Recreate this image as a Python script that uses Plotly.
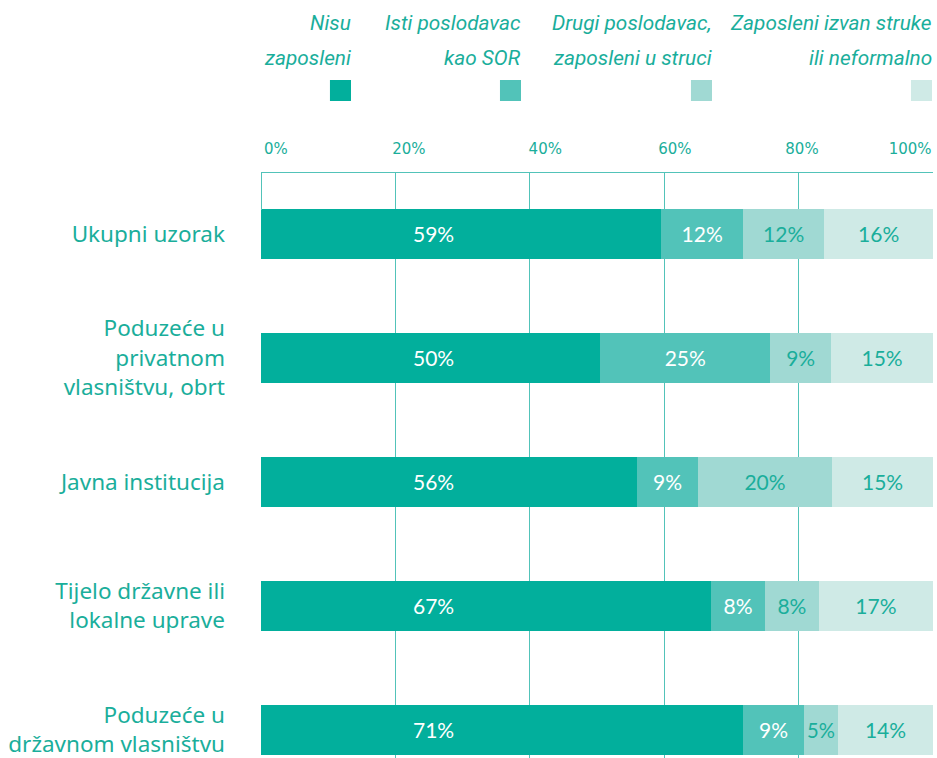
import plotly.graph_objects as go

categories = ["Ukupni uzorak",
              "Poduzeće u<br>privatnom<br>vlasništvu, obrt",
              "Javna institucija",
              "Tijelo državne ili<br>lokalne uprave",
              "Poduzeće u<br>državnom vlasništvu"]
series_names = ["Nisu zaposleni", "Isti poslodavac kao SOR",
                "Drugi poslodavac, zaposleni u struci",
                "Zaposleni izvan struke ili neformalno"]
nisu = [59, 50, 56, 67, 71]
isti = [12, 25, 9, 8, 9]
drugi = [12, 9, 20, 8, 5]
izvan = [16, 15, 15, 17, 14]
tick_vals = [20, 40, 60, 80, 100]
tick_label_pos = [2.2, 22.0, 42.3, 61.6, 80.5, 96.6]
tick_text = ["0%", "20%", "40%", "60%", "80%", "100%"]

colors = ["#02AF9C", "#52C3B9", "#A0D9D3", "#CFEAE6"]
text_colors = ["#FFFFFF", "#FFFFFF", "#1AAE9B", "#1AAE9B"]
TEAL = "#1AAE9B"
GRID = "#52C3B9"
NUM_FONT = "Lato"

fig = go.Figure()
all_series = [nisu, isti, drugi, izvan]
for i, vals in enumerate(all_series):
    show_text = i > 0
    fig.add_trace(go.Bar(
        y=categories, x=vals, orientation="h", name=series_names[i],
        marker=dict(color=colors[i], line=dict(width=0)),
        width=0.4,
        text=[f"{v}%" for v in vals] if show_text else None,
        textposition="inside" if show_text else "none",
        insidetextanchor="middle",
        textangle=0,
        textfont=dict(color=text_colors[i], size=21, family=NUM_FONT),
        hoverinfo="skip", showlegend=False,
    ))

# dummy trace for label axis
fig.add_trace(go.Scatter(x=[None], y=[None], xaxis="x2", yaxis="y",
                         showlegend=False, hoverinfo="skip"))

annotations = []
for cat, v in zip(categories, nisu):
    annotations.append(dict(x=25.7, y=cat, xref="x", yref="y", text=f"{v}%",
                            showarrow=False, xanchor="center", yanchor="middle",
                            font=dict(color="#FFFFFF", size=21, family=NUM_FONT)))

legend_lines = [("Nisu", "zaposleni"),
                ("Isti poslodavac", "kao SOR"),
                ("Drugi poslodavac,", "zaposleni u struci"),
                ("Zaposleni izvan struke", "ili neformalno")]
legend_right = [0.1339, 0.3869, 0.6711, 0.9985]
sq_w = 0.0313
shapes = []
for i, (l1, l2) in enumerate(legend_lines):
    for txt, yy in ((l1, 1.2564), (l2, 1.1966)):
        annotations.append(dict(x=legend_right[i], y=yy, xref="paper", yref="paper",
                                text=txt, showarrow=False, xanchor="right",
                                yanchor="middle", xshift=2,
                                font=dict(color=TEAL, size=20.8,
                                          family="Liberation Sans Narrow, Roboto",
                                          style="italic")))
    shapes.append(dict(type="rect", xref="paper", yref="paper",
                       x0=legend_right[i] - sq_w, x1=legend_right[i],
                       y0=1.1231, y1=1.1590, fillcolor=colors[i],
                       line=dict(width=0), layer="above"))

fig.update_layout(
    barmode="stack", barnorm="percent",
    width=937, height=758,
    margin=dict(l=261, r=4, t=173, b=0),
    paper_bgcolor="white", plot_bgcolor="white",
    annotations=annotations, shapes=shapes,
    hovermode=False,
    xaxis=dict(side="top", range=[0, 100], tickvals=tick_vals,
               showticklabels=False, showgrid=True, gridcolor=GRID, gridwidth=1,
               zeroline=False, showline=True, linecolor=GRID, linewidth=1,
               ticks="",
               minor=dict(tickvals=[0], ticks="inside", ticklen=37,
                          tickcolor=GRID, showgrid=False)),
    xaxis2=dict(side="top", overlaying="x", anchor="y", range=[0, 100],
                tickvals=tick_label_pos, ticktext=tick_text, showgrid=False,
                zeroline=False, showline=False, ticks="", ticklabelstandoff=15,
                tickfont=dict(color=TEAL, size=15, family="DejaVu Sans")),
    yaxis=dict(type="category", categoryorder="array", categoryarray=categories,
               range=[4.226, -0.49], showgrid=False, zeroline=False,
               showline=False, ticks="", ticklabelstandoff=35,
               tickfont=dict(color=TEAL, size=22.5, family="Noto Sans")),
)

fig.write_html("out.html",
               config={"displayModeBar": False, "staticPlot": True},
               post_script="document.body.style.margin='0';"
                           "document.body.style.overflow='hidden';")
